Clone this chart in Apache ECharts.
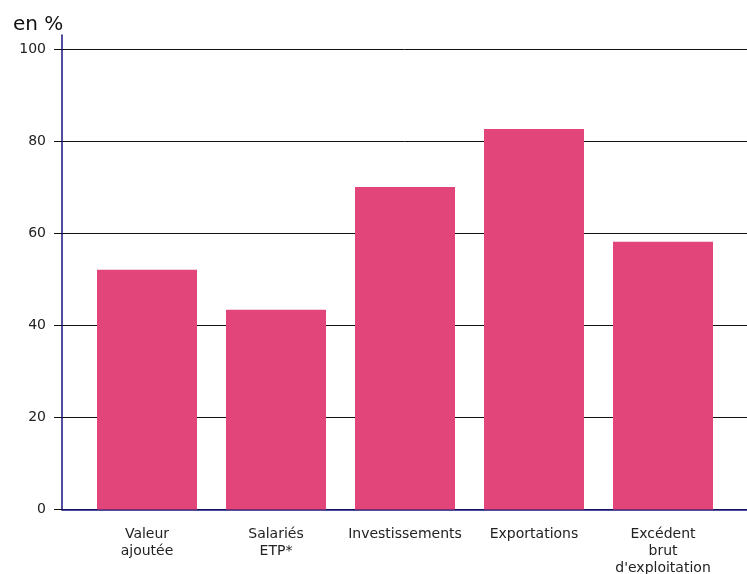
<!DOCTYPE html>
<html>
<head>
<meta charset="utf-8">
<script src="https://cdn.jsdelivr.net/npm/echarts@6/dist/echarts.min.js"></script>
<style>
html,body{margin:0;padding:0;background:#fff;}
#chart{width:747px;height:574px;}
</style>
</head>
<body>
<div id="chart"></div>
<script>
const categories = ['Valeur\najoutée', 'Salariés\nETP*', 'Investissements', 'Exportations', 'Excédent\nbrut\nd\'exploitation'];
const values = [52.1, 43.4, 70.1, 82.7, 58.2];
const unitLabel = 'en %';
const yMin = 0, yMax = 100, yStep = 20;

const chart = echarts.init(document.getElementById('chart'), null, {renderer: 'canvas'});
const navy = '#14147e';
const bottom = 64.5;
chart.setOption({
  animation: false,
  backgroundColor: '#ffffff',
  title: {
    text: unitLabel, left: 13, top: 15, padding: 0,
    textStyle: {fontFamily: 'DejaVu Sans', fontSize: 20, fontWeight: 'normal', color: '#111'}
  },
  grid: [
    {left: 62, right: 0, top: 35, bottom: bottom, outerBoundsMode: 'none', containLabel: false},
    {left: 62, right: 0, top: 49.5, bottom: bottom, outerBoundsMode: 'none', containLabel: false},
    {left: 82.5, width: 645, top: 49.5, bottom: bottom, outerBoundsMode: 'none', containLabel: false}
  ],
  xAxis: [
    {gridIndex: 0, type: 'category', data: categories, show: false},
    {gridIndex: 1, type: 'category', data: categories,
      axisLine: {show: true, lineStyle: {color: navy, width: 1.5}},
      axisTick: {show: false}, axisLabel: {show: false}, splitLine: {show: false}},
    {gridIndex: 2, type: 'category', data: categories,
      axisLine: {show: false}, axisTick: {show: false},
      axisLabel: {fontFamily: 'DejaVu Sans', fontSize: 14, color: '#222',
        lineHeight: 17, margin: 16, interval: 0}}
  ],
  yAxis: [
    {gridIndex: 0, type: 'value', min: yMin, max: yMax,
      axisLine: {show: true, lineStyle: {color: navy, width: 1.5}},
      axisTick: {show: false}, axisLabel: {show: false}, splitLine: {show: false}},
    {gridIndex: 1, type: 'value', min: yMin, max: yMax, interval: yStep,
      axisLine: {show: false},
      axisTick: {show: true, inside: false, length: 8, lineStyle: {color: '#111', width: 1}},
      axisLabel: {fontFamily: 'DejaVu Sans', fontSize: 14, color: '#222', margin: 16},
      splitLine: {show: true, lineStyle: {color: '#111', width: 1}}},
    {gridIndex: 2, type: 'value', min: yMin, max: yMax, show: false, splitLine: {show: false}}
  ],
  series: [{
    type: 'bar', xAxisIndex: 2, yAxisIndex: 2,
    data: values, barWidth: 100,
    itemStyle: {color: '#e2457a'}
  }]
});
</script>
</body>
</html>
